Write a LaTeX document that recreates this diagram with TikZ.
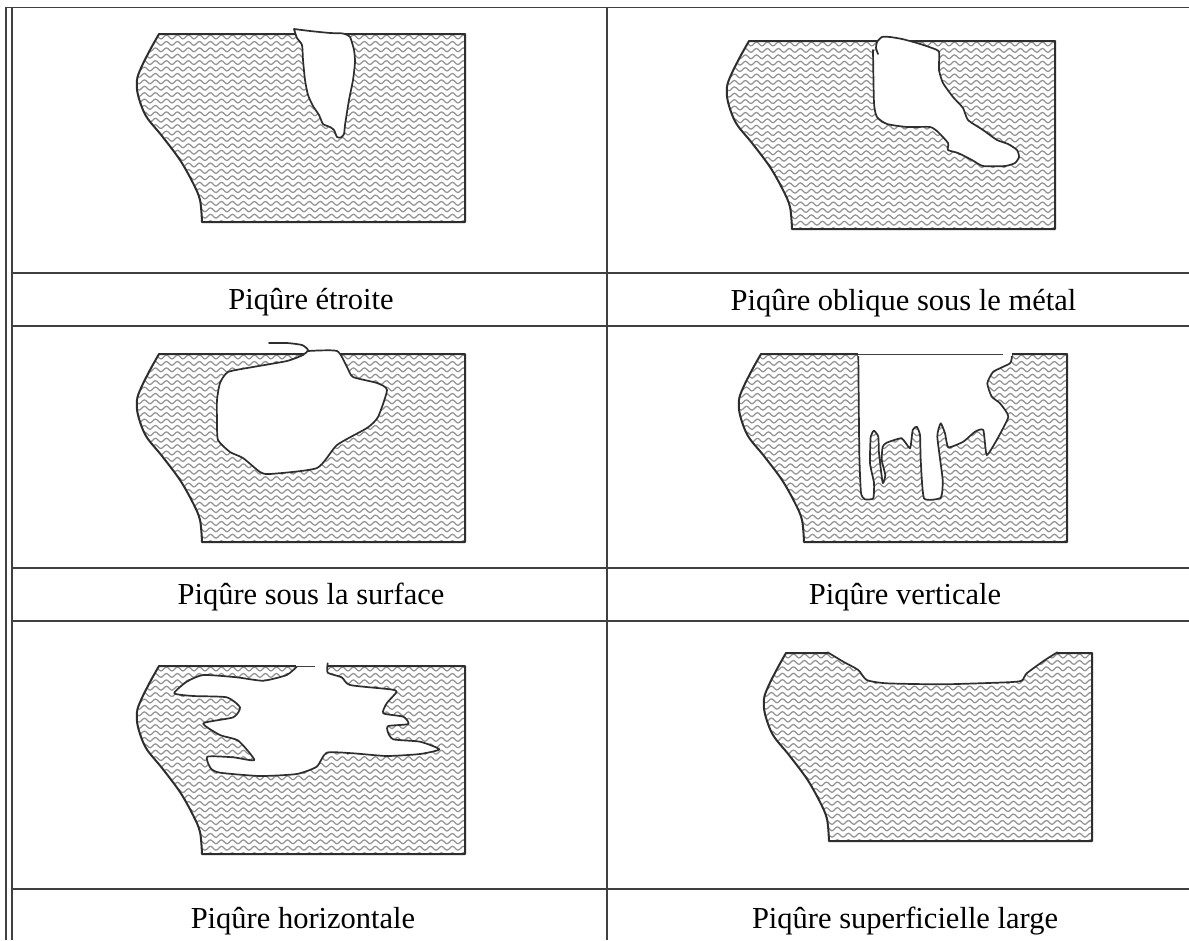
\documentclass[tikz,border=0pt]{standalone}
\usepackage{fontspec}
\setmainfont{Liberation Serif}
\usetikzlibrary{decorations.pathmorphing}
\definecolor{rule}{gray}{0.25}
\definecolor{ink}{gray}{0.18}
\definecolor{wave}{gray}{0.58}
\tikzset{
  x=1pt,y=-1pt,
  tableline/.style={draw=rule,line width=1.7pt},
  outline/.style={draw=ink,line width=2pt,line join=round},
  pit/.style={draw=ink,fill=white,line width=1.7pt,line join=round,line cap=round},
  hatchline/.style={draw=wave,line width=1.25pt,decorate,decoration={snake,segment length=11pt,amplitude=1.9pt}},
  caption/.style={anchor=base,font=\fontsize{30.5}{36}\selectfont,text=black,inner sep=0pt}
}
\def\baseshape{plot[smooth,tension=.55] coordinates {(159,34) (150,50) (141,68) (137,80) (138,95) (146,116) (162,136) (180,160) (193,183) (200,200) (202,222)} -- (465,222) -- (465,34) -- cycle}
\newcommand{\metalpanel}[2]{%
  \begin{scope}[shift={(#1,#2)}]
    \begin{scope}
      \clip \baseshape;
      \foreach \r in {0,...,29} {
        \draw[hatchline] (130,37+6.4*\r) -- (470,37+6.4*\r);
      }
    \end{scope}
    \draw[outline] \baseshape;
  \end{scope}}
\begin{document}
\begin{tikzpicture}
\useasboundingbox (0,0) rectangle (1189,940);
\fill[white] (0,0) rectangle (1189,940);
% table rules
\draw[tableline,line width=1.2pt] (6,7) -- (6,940);
\draw[tableline] (12,7) -- (12,940);
\draw[tableline] (607,7) -- (607,940);
\draw[tableline] (6,7.5) -- (1189,7.5);
\foreach \yy in {273,326,568,621,889} {
  \draw[tableline] (12,\yy) -- (1189,\yy);
}
% panels
\metalpanel{0}{0}
\metalpanel{590}{7}
\metalpanel{0}{320}
\metalpanel{602}{320}
\metalpanel{0}{632}
\metalpanel{627}{619}
% pit 1
\draw[pit] plot[smooth,tension=.35] coordinates {(294,29) (310,31) (330,33) (343,33.5) (350,37) (354,50) (355,62) (353,80) (349,100) (345,125) (344,134) (341,137.5) (337,137) (334,130) (330,127) (323,124) (319,115) (313,106) (308,95) (305,80) (303,60) (302,45) (297,38) (294,29)};
% pit 2
\draw[pit] plot[smooth,tension=.35] coordinates {(878,54) (876,48) (877,42) (882,37) (890,37) (902,39) (917,43) (932,48) (939,52) (939,70) (943,83) (953,97) (963,108) (968,120) (983,130) (997,140) (1008,144) (1017,150) (1019,157) (1015,163) (1005,166) (983,166) (972,160) (958,153) (948,150) (948,143) (938,132) (930,127) (907,127) (887,124) (877,117) (874,103) (873,50)};
% pit 3
\draw[pit] plot[smooth,tension=.35] coordinates {(269,343) (287,343) (302,345) (308,350) (303,355) (287,361) (253,367) (228,372) (220,383) (217,400) (217,420) (218,440) (230,452) (243,458) (260,472) (270,474) (317,468) (337,445) (367,428) (378,417) (387,390) (377,383) (353,377) (347,367) (337,351) (308,351)};
% pit 4
\draw[pit] plot[smooth,tension=.3] coordinates {(858.3,355) (859.3,453.3) (861,493) (865,499.3) (873.3,498.3) (874,483) (870,463.3) (870.7,436.7) (874,430.7) (878.3,436.7) (879,453.3) (882.7,483) (885.3,475) (881.7,460) (882.7,446.7) (886.7,442.7) (901.7,438.3) (910,448.3) (912.7,430) (916.7,426.7) (920,435) (920.7,460) (924,498.3) (940.7,497.7) (942.7,480) (937.3,436.7) (940.7,423.3) (945,433.3) (948.3,447.3) (963.3,441.7) (975,431.7) (983.3,430) (986.7,455) (996.7,440) (1008.3,416.7) (1000,403.3) (991.7,396.7) (987.3,383.3) (993.3,371.7) (1010,363.3) (1011.7,355) (1003,354.7)};
\fill[white] (858,351) rectangle (1012,356);
\draw[rule,line width=.8pt] (858,354) -- (1003,354);
% pit 5
\fill[white] (296,662) rectangle (328,669);
\draw[pit] plot[smooth,tension=.35] coordinates {(296.7,666.7) (286.7,675) (263.3,680.7) (236.7,677.3) (203.3,675) (186.7,681.7) (174.3,693.3) (193.3,696) (226.7,697.3) (240,707.3) (233.3,717.3) (203.3,723.3) (220,735) (238.3,740.7) (254.3,760) (233.3,757.3) (207.3,756.7) (210.7,768.3) (220,772.7) (260,776) (296.7,774) (316.7,766.7) (326.7,752.7) (353.3,753.3) (386.7,756) (420,754) (439.3,749.3) (420,741.7) (393.3,739.3) (387.7,731.7) (388.3,726) (408.3,724) (403.3,716.7) (383.3,713.3) (386.7,703.3) (396.7,691.7) (390,689.3) (350,685) (341.7,677.3) (327.7,672.7) (327.7,663.3)};
\draw[rule,line width=.8pt] (296,666) -- (315,666);
% pit 6
\fill[white] (828,649) rectangle (1057,654);
\draw[pit] plot[smooth,tension=.35] coordinates {(827.7,652.3) (843.3,661.7) (858.3,670) (866.7,680) (886.7,683.3) (943.3,684.3) (1006.7,682.3) (1021.7,680.7) (1026.7,673.3) (1045,660) (1057.3,652.3)};
% captions
\node[caption] (cap1) at (311,309) {Piqûre étroite};
\node[caption] (cap2) at (903.5,310) {Piqûre oblique sous le métal};
\node[caption] (cap3) at (311,604) {Piqûre sous la surface};
\node[caption] (cap4) at (905,604) {Piqûre verticale};
\node[caption] (cap5) at (303,928) {Piqûre horizontale};
\node[caption] (cap6) at (905,928) {Piqûre superficielle large};
\end{tikzpicture}
\end{document}
